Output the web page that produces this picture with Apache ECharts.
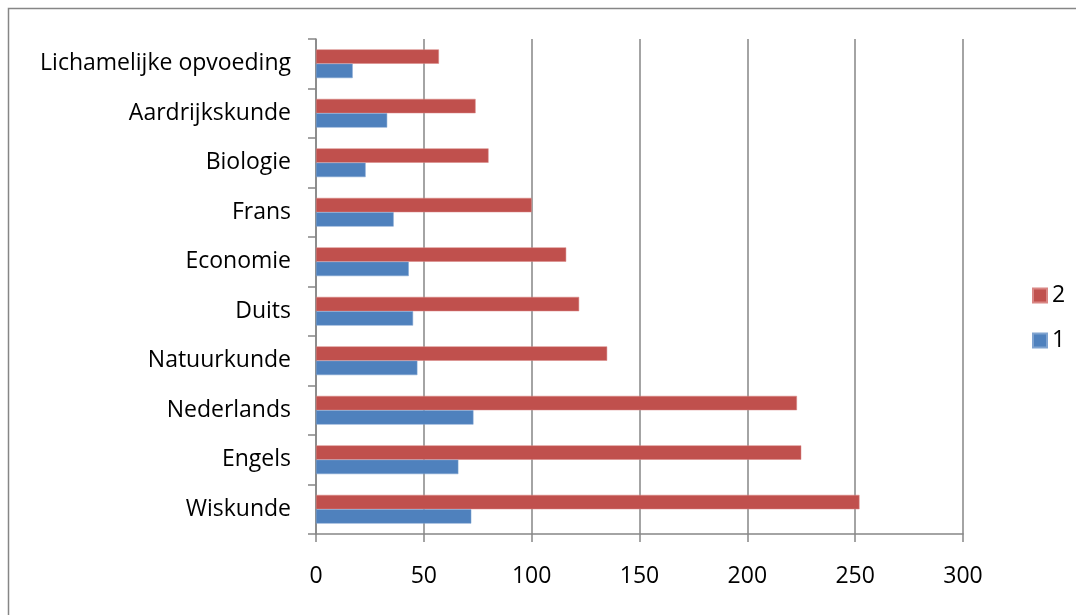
<!DOCTYPE html>
<html>
<head>
<meta charset="utf-8">
<script src="https://cdn.jsdelivr.net/npm/echarts@6/dist/echarts.min.js"></script>
<style>
html,body{margin:0;padding:0;background:#fff;}
#chart{width:1076px;height:615px;}
</style>
</head>
<body>
<div id="chart"></div>
<script>
var categories = ['Wiskunde','Engels','Nederlands','Natuurkunde','Duits','Economie','Frans','Biologie','Aardrijkskunde','Lichamelijke opvoeding'];
var series1 = [72, 66, 73, 47, 45, 43, 36, 23, 33, 17];
var series2 = [252, 225, 223, 135, 122, 116, 100, 80, 74, 57];
var xTicks = [0, 50, 100, 150, 200, 250, 300];

var FONT = 'Open Sans';
var chart = echarts.init(document.getElementById('chart'), null, {renderer: 'canvas'});
chart.setOption({
  animation: false,
  backgroundColor: '#ffffff',
  graphic: [{
    type: 'rect',
    shape: {x: 8.5, y: 8.5, width: 1200, height: 800},
    style: {fill: 'none', stroke: '#868686', lineWidth: 1.5},
    silent: true
  }],
  grid: {left: 316, top: 39, right: 113, bottom: 81, containLabel: false},
  legend: {
    data: ['2', '1'],
    orient: 'vertical',
    left: 1027,
    top: 279,
    itemWidth: 14,
    itemHeight: 14,
    itemGap: 22,
    icon: 'rect',
    textStyle: {fontFamily: FONT, fontSize: 23, color: '#000'}
  },
  xAxis: {
    type: 'value',
    min: xTicks[0],
    max: xTicks[xTicks.length - 1],
    interval: 50,
    axisLine: {show: true, lineStyle: {color: '#868686', width: 1.5}},
    axisTick: {show: true, length: 8, lineStyle: {color: '#868686', width: 1.5}},
    splitLine: {show: true, lineStyle: {color: '#868686', width: 1.5}},
    axisLabel: {fontFamily: FONT, fontSize: 23, color: '#000', margin: 31}
  },
  yAxis: {
    type: 'category',
    data: categories,
    axisLine: {show: true, lineStyle: {color: '#868686', width: 1.5}},
    axisTick: {show: true, length: 8, lineStyle: {color: '#868686', width: 1.5}},
    axisLabel: {fontFamily: FONT, fontSize: 23, color: '#000', margin: 25},
    splitLine: {show: false}
  },
  series: [
    {
      name: '2', type: 'bar', data: series2,
      barGap: '0%', barCategoryGap: '42%',
      itemStyle: {color: '#C0504D', borderColor: '#d98684', borderWidth: 0.5}
    },
    {
      name: '1', type: 'bar', data: series1,
      barGap: '0%', barCategoryGap: '42%',
      itemStyle: {color: '#4F81BD', borderColor: '#7fa3d0', borderWidth: 0.5}
    }
  ]
});
</script>
</body>
</html>
